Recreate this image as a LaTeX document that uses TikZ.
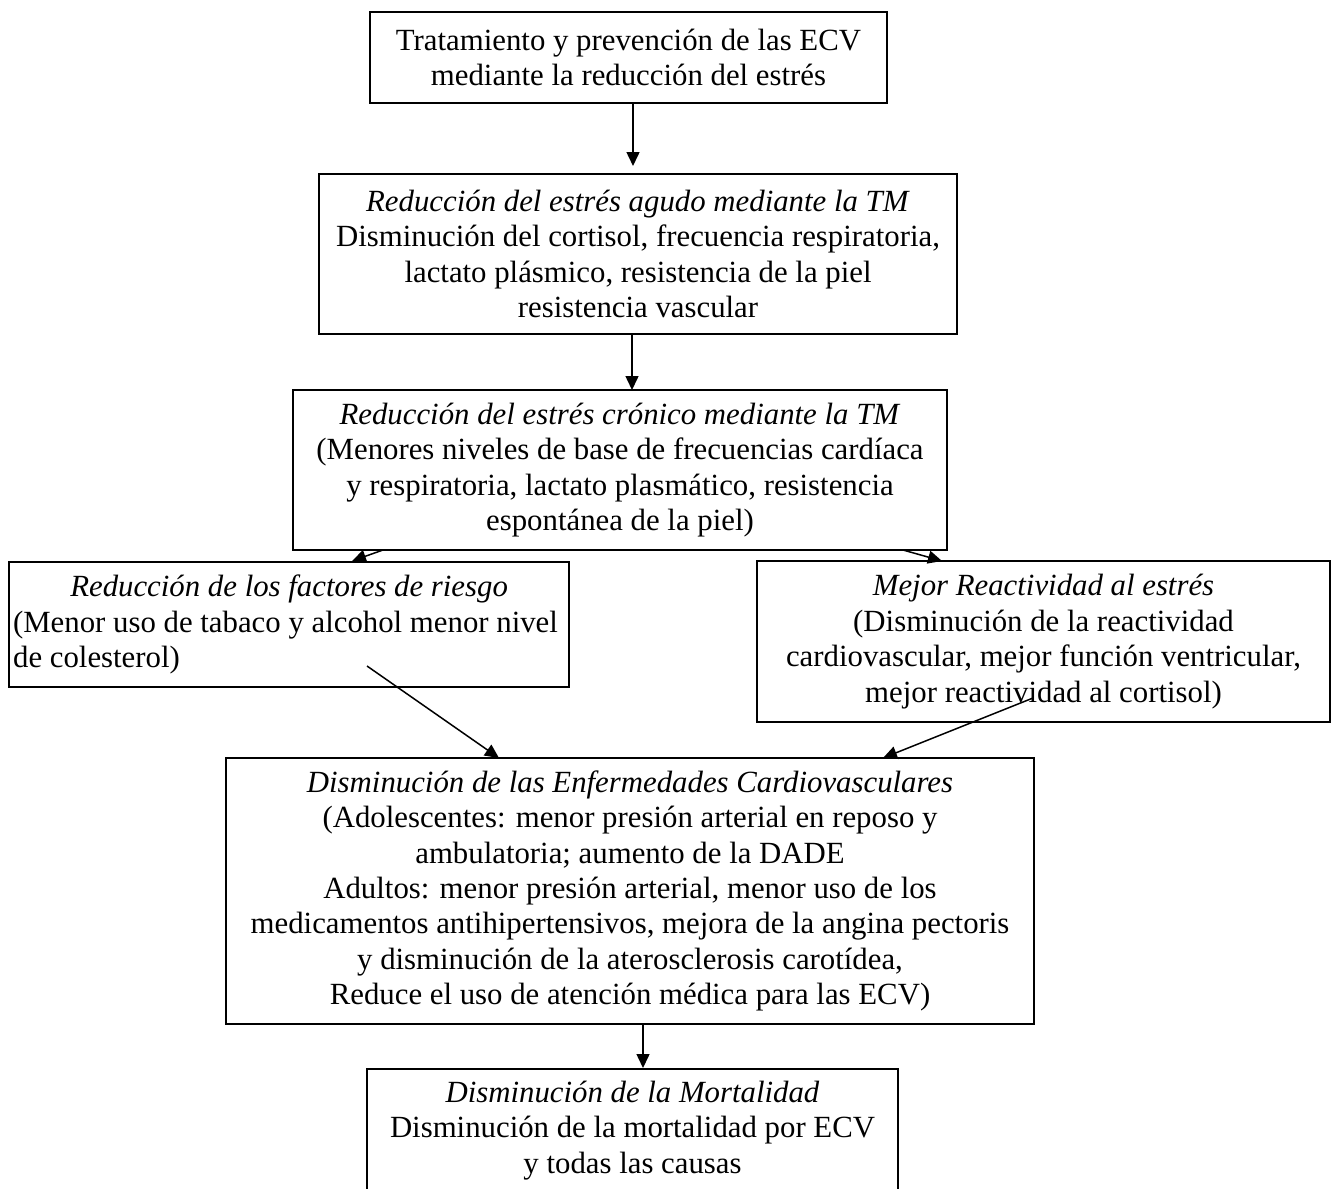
\documentclass[tikz,border=0pt]{standalone}
\usepackage{fontspec}
\setmainfont{Liberation Serif}
\usetikzlibrary{arrows.meta}
\begin{document}
\begin{tikzpicture}[x=0.5pt,y=-0.5pt,
  box/.style={draw, line width=1.1pt, inner sep=0pt, align=center, font=\fontsize{15.4}{17.7}\selectfont},
  arr/.style={line width=0.75pt, -{Triangle[length=7pt,width=6.5pt]}}]
\useasboundingbox (0,0) rectangle (1332,1188);
\fill[white] (0,0) rectangle (1332,1188);

\node[box, minimum width=258.5pt, minimum height=45.5pt] (b1) at (628.5,57.5)
  {Tratamiento y prevención de las ECV\\mediante la reducción del estrés};
\node[box, minimum width=319pt, minimum height=80pt] (b2) at (638,254)
  {\textit{Reducción del estrés agudo mediante la TM}\\Disminución del cortisol, frecuencia respiratoria,\\lactato plásmico, resistencia de la piel\\resistencia vascular};
\node[box, minimum width=327pt, minimum height=80pt] (b3) at (620,470)
  {\textit{Reducción del estrés crónico mediante la TM}\\(Menores niveles de base de frecuencias cardíaca\\y respiratoria, lactato plasmático, resistencia\\espontánea de la piel)};
\node[box, align=left, anchor=north west, inner xsep=2pt, minimum width=280pt, minimum height=62.5pt] (b4) at (8,561)
  {\makebox[276pt][c]{\textit{Reducción de los factores de riesgo}}\\(Menor uso de tabaco y alcohol menor nivel\\de colesterol)};
\node[box, minimum width=286.5pt, minimum height=80.5pt] (b5) at (1043.5,641.5)
  {\textit{Mejor Reactividad al estrés}\\(Disminución de la reactividad\\cardiovascular, mejor función ventricular,\\mejor reactividad al cortisol)};
\node[box, minimum width=404pt, minimum height=133pt] (b6) at (630,891)
  {\textit{Disminución de las Enfermedades Cardiovasculares}\\(Adolescentes: menor presión arterial en reposo y\\ambulatoria; aumento de la DADE\\Adultos: menor presión arterial, menor uso de los\\medicamentos antihipertensivos, mejora de la angina pectoris\\y disminución de la aterosclerosis carotídea,\\Reduce el uso de atención médica para las ECV)};
\node[box, anchor=north, minimum width=265.5pt, inner ysep=6pt] (b7) at (632.5,1068)
  {\textit{Disminución de la Mortalidad}\\Disminución de la mortalidad por ECV\\y todas las causas\\[40pt]\mbox{}};

\coordinate (a1s) at (633,103);
\coordinate (a1e) at (633,166);
\coordinate (a2s) at (632,334);
\coordinate (a2e) at (632,390);
\coordinate (a3ls) at (383,550);
\coordinate (a3le) at (352,561);
\coordinate (a3rs) at (903,550);
\coordinate (a3re) at (942,561);
\coordinate (a4s) at (367,666);
\coordinate (a4e) at (499,758);
\coordinate (a5s) at (1033,698);
\coordinate (a5e) at (883,758);
\coordinate (a6s) at (643,1024);
\coordinate (a6e) at (643,1068);

\draw[arr] (a1s) -- (a1e);
\draw[arr] (a2s) -- (a2e);
\draw[arr] (a3ls) -- (a3le);
\draw[arr] (a3rs) -- (a3re);
\draw[arr] (a4s) -- (a4e);
\draw[arr] (a5s) -- (a5e);
\draw[arr] (a6s) -- (a6e);
\end{tikzpicture}
\end{document}
